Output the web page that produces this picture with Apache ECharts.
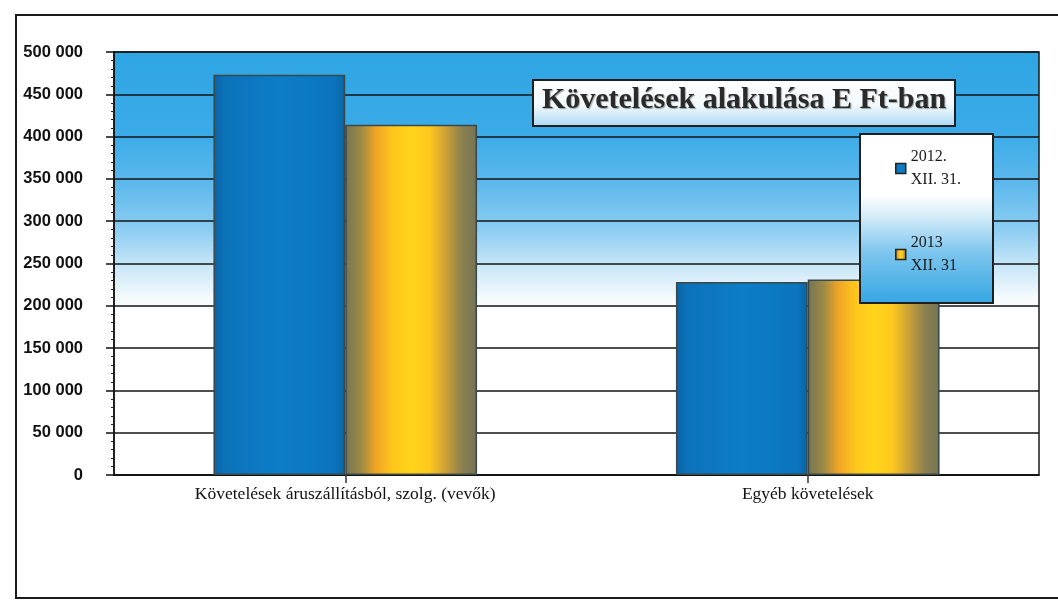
<!DOCTYPE html>
<html>
<head>
<meta charset="utf-8">
<script src="https://cdn.jsdelivr.net/npm/echarts@6/dist/echarts.min.js"></script>
<style>
  html, body { margin: 0; padding: 0; background: #ffffff; }
  #chart { width: 1058px; height: 601px; }
</style>
</head>
<body>
<div id="chart"></div>
<script>
// ---- data ----
const categories = ['Követelések áruszállításból, szolg. (vevők)', 'Egyéb követelések'];
const seriesNames = ['2012. XII. 31.', '2013 XII. 31'];
const values2012 = [473000, 228000];
const values2013 = [414000, 231000];
const yMin = 0;
const yMax = 500000;
const yInterval = 50000;
const titleText = 'Követelések alakulása E Ft-ban';

function fmtThousands(v) {
  return String(v).replace(/\B(?=(\d{3})+(?!\d))/g, ' ');
}

const chart = echarts.init(document.getElementById('chart'), null, { renderer: 'canvas' });

const blueFill = {
  type: 'linear', x: 0, y: 0, x2: 1, y2: 0,
  colorStops: [
    { offset: 0, color: '#0a62a3' },
    { offset: 0.08, color: '#0c72ba' },
    { offset: 0.5, color: '#0c7dc8' },
    { offset: 0.92, color: '#0b75be' },
    { offset: 1, color: '#0a62a3' }
  ]
};
const yellowFill = {
  type: 'linear', x: 0, y: 0, x2: 1, y2: 0,
  colorStops: [
    { offset: 0, color: '#767455' },
    { offset: 0.12, color: '#9c8a46' },
    { offset: 0.23, color: '#f0a426' },
    { offset: 0.36, color: '#ffc61d' },
    { offset: 0.5, color: '#ffd41a' },
    { offset: 0.64, color: '#ffc81e' },
    { offset: 0.77, color: '#c99f38' },
    { offset: 0.89, color: '#8a8050' },
    { offset: 1, color: '#747355' }
  ]
};

const option = {
  backgroundColor: '#ffffff',
  animation: false,
  title: {
    text: titleText,
    left: 744,
    top: 85,
    textAlign: 'center',
    padding: 0,
    z: 20,
    textStyle: {
      fontFamily: 'Liberation Serif',
      fontWeight: 'bold',
      fontSize: 30,
      color: '#2a2a2a',
      textShadowColor: 'rgba(0,0,0,0.35)',
      textShadowOffsetX: 1,
      textShadowOffsetY: 1,
      textShadowBlur: 1
    }
  },
  legend: {
    orient: 'vertical',
    left: 895,
    top: 134,
    padding: 0,
    itemWidth: 10,
    itemHeight: 10,
    itemGap: 17,
    z: 20,
    icon: 'rect',
    formatter: function (name) { return name.replace(' XII', '\nXII'); },
    textStyle: {
      fontFamily: 'Liberation Serif',
      fontSize: 16,
      color: '#1a1a1a',
      lineHeight: 23,
      padding: [23, 0, 0, 0]
    },
    itemStyle: { borderColor: '#222', borderWidth: 1.5 },
    data: seriesNames
  },
  grid: {
    left: 114,
    right: 19,
    top: 52,
    bottom: 126,
    show: true,
    borderColor: '#1a1a1a',
    borderWidth: 1.5,
    backgroundColor: {
      type: 'linear', x: 0, y: 0, x2: 0, y2: 1,
      colorStops: [
        { offset: 0, color: '#2fa5e3' },
        { offset: 0.19, color: '#3aabe8' },
        { offset: 0.31, color: '#5cb8ec' },
        { offset: 0.42, color: '#8ccdf2' },
        { offset: 0.51, color: '#cbe8f8' },
        { offset: 0.58, color: '#f4fafd' },
        { offset: 0.62, color: '#ffffff' },
        { offset: 1, color: '#ffffff' }
      ]
    }
  },
  xAxis: {
    type: 'category',
    data: categories,
    axisLine: { lineStyle: { color: '#111', width: 1.5 } },
    axisTick: { show: true, alignWithLabel: true, length: 8, lineStyle: { color: '#333', width: 1.5 } },
    axisLabel: {
      margin: 10,
      fontFamily: 'Liberation Serif',
      fontSize: 17.5,
      color: '#111'
    },
    splitLine: { show: false }
  },
  yAxis: {
    type: 'value',
    min: yMin,
    max: yMax,
    interval: yInterval,
    axisLine: { show: true, lineStyle: { color: '#111', width: 1.5 } },
    axisTick: { show: true, length: 8, lineStyle: { color: '#111', width: 1.5 } },
    minorTick: { show: true, splitNumber: 5, length: 3, lineStyle: { color: '#222', width: 1 } },
    axisLabel: {
      margin: 31,
      fontFamily: 'Liberation Sans',
      fontWeight: 'bold',
      fontSize: 16.5,
      color: '#111',
      formatter: fmtThousands
    },
    splitLine: { show: true, lineStyle: { color: '#151515', width: 1.5 } }
  },
  series: [
    {
      name: seriesNames[0],
      type: 'bar',
      data: values2012,
      barGap: '0%',
      barCategoryGap: '43%',
      itemStyle: { color: blueFill, borderColor: '#3a4848', borderWidth: 1.5 }
    },
    {
      name: seriesNames[1],
      type: 'bar',
      data: values2013,
      itemStyle: { color: yellowFill, borderColor: '#3a4848', borderWidth: 1.5 }
    }
  ],
  graphic: {
    elements: [
      {
        type: 'rect',
        z: 1,
        silent: true,
        shape: { x: 16, y: 15, width: 1100, height: 583 },
        style: { fill: 'none', stroke: '#1a1a1a', lineWidth: 2 }
      },
      {
        type: 'rect',
        z: 10,
        silent: true,
        shape: { x: 533, y: 80, width: 422, height: 46 },
        style: {
          stroke: '#1e1e1e',
          lineWidth: 2,
          fill: {
            type: 'linear', x: 0, y: 0, x2: 0, y2: 1,
            colorStops: [
              { offset: 0, color: '#ffffff' },
              { offset: 0.55, color: '#f2f9fd' },
              { offset: 1, color: '#a9d9f4' }
            ]
          }
        }
      },
      {
        type: 'rect',
        z: 10,
        silent: true,
        shape: { x: 860, y: 134, width: 133, height: 169 },
        style: {
          stroke: '#1e1e1e',
          lineWidth: 2,
          fill: {
            type: 'linear', x: 0, y: 0, x2: 0, y2: 1,
            colorStops: [
              { offset: 0, color: '#ffffff' },
              { offset: 0.36, color: '#ffffff' },
              { offset: 0.5, color: '#cfeaf8' },
              { offset: 0.7, color: '#7cc5ee' },
              { offset: 1, color: '#35a6e3' }
            ]
          }
        }
      }
    ]
  }
};

chart.setOption(option);
</script>
</body>
</html>
